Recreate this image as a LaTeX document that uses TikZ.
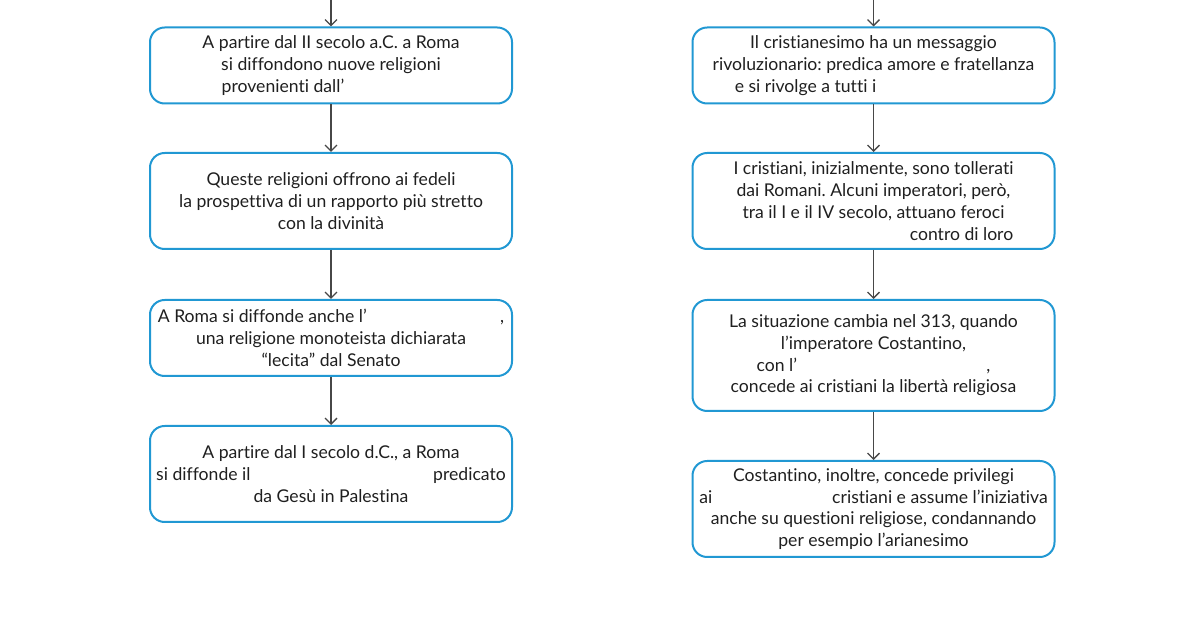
\documentclass[tikz,border=0pt]{standalone}
\usepackage{fontspec}
\setmainfont{Lato}[Ligatures={NoCommon}]
\usepackage{tikz}
\usetikzlibrary{positioning}
\usetikzlibrary{arrows.meta}
\frenchspacing

\begin{document}
\begin{tikzpicture}[
    x=0.75pt, y=-0.75pt,
    box/.style={draw=boxblue, rounded corners=11pt, line width=1.5pt,
        minimum width=271.5pt, align=center, inner sep=2pt,
        font=\fontsize{13.2}{16.3}\selectfont, text=black!88},
    arrowline/.style={-{Straight Barb[length=4.5pt,width=9pt]}, black!72, line width=1pt},
    ]
    \definecolor{boxblue}{RGB}{33,152,211}
    \useasboundingbox (0,0) rectangle (1200,630);

    %Nodes
    \coordinate (1T) at (331,0);
    \node[box, minimum height=57pt] (1A) at (331,65.5)
        {A partire dal II secolo a.C. a Roma\\
         si diffondono nuove religioni\\
         provenienti dall’\hspace*{72pt}};
    \node[box, minimum height=72pt] (1B) at (331,201)
        {Queste religioni offrono ai fedeli\\
         la prospettiva di un rapporto più stretto\\
         con la divinità};
    \node[box, minimum height=57pt] (1C) at (331,338)
        {A Roma si diffonde anche l’\hspace*{100pt},\\
         una religione monoteista dichiarata\\
         “lecita” dal Senato};
    \node[box, minimum height=72pt] (1D) at (331,474)
        {A partire dal I secolo d.C., a Roma\\
         si diffonde il\hspace*{137pt}predicato\\
         da Gesù in Palestina};

    \coordinate (2T) at (873.5,0);
    \node[box, minimum height=57pt] (2A) at (873.5,65.5)
        {Il cristianesimo ha un messaggio\\
         rivoluzionario: predica amore e fratellanza\\
         e si rivolge a tutti i\hspace*{102pt}};
    \node[box, minimum height=72pt] (2B) at (873.5,201)
        {I cristiani, inizialmente, sono tollerati\\
         dai Romani. Alcuni imperatori, però,\\
         tra il I e il IV secolo, attuano feroci\\
         \hspace*{132pt}contro di loro};
    \node[box, minimum height=83.25pt] (2C) at (873.5,355.5)
        {La situazione cambia nel 313, quando\\
         l’imperatore Costantino,\\
         con l’\hspace*{142pt},\\
         concede ai cristiani la libertà religiosa};
    \node[box, minimum height=72pt] (2D) at (873.5,509)
        {Costantino, inoltre, concede privilegi\\
         ai\hspace*{90pt}cristiani e assume l’iniziativa\\
         anche su questioni religiose, condannando\\
         per esempio l’arianesimo};

    %Lines
    \draw[arrowline] (1T) -- (1A);
    \draw[arrowline] (1A) -- (1B);
    \draw[arrowline] (1B) -- (1C);
    \draw[arrowline] (1C) -- (1D);

    \draw[arrowline] (2T) -- (2A);
    \draw[arrowline] (2A) -- (2B);
    \draw[arrowline] (2B) -- (2C);
    \draw[arrowline] (2C) -- (2D);

\end{tikzpicture}
\end{document}
